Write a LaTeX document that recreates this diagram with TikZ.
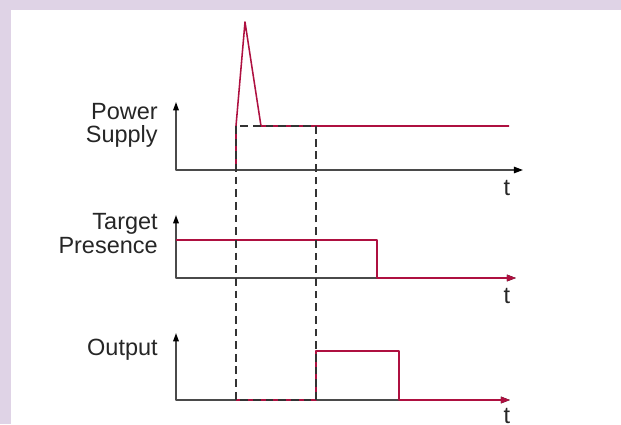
\documentclass[tikz,border=0pt]{standalone}
\usepackage{fontspec}
\setmainfont{Liberation Sans}
\usetikzlibrary{arrows.meta}
\definecolor{TDCrimson}{HTML}{AE1040}
\definecolor{TDAxis}{HTML}{4A4A4A}
\definecolor{TDGuide}{HTML}{333333}
\definecolor{TDLilac}{HTML}{DFD3E6}

\begin{document}
\begin{tikzpicture}[x=0.025cm,y=-0.025cm,line join=round,
    axis/.style={TDAxis,line width=1.1pt,{Triangle[length=6pt,width=4pt,black]}-{Triangle[length=6.5pt,width=4.6pt,black]}},
    signal/.style={TDCrimson,line width=1.1pt},
    guide/.style={TDGuide,line width=0.9pt,dash pattern=on 5.5pt off 3.5pt},
    label/.style={font=\fontsize{16.7}{16.8}\selectfont,text=black!85,inner sep=0pt}]
  \useasboundingbox (0,0) rectangle (621,424);
  \fill[TDLilac] (0,0) rectangle (621,9.5);
  \fill[TDLilac] (0,0) rectangle (10.5,424);
  % axes
  \draw[axis] (176,102) |- (523,170);
  \draw[axis] (176,215) |- (516,278);
  \draw[axis] (176,333) |- (510,400);
  % signals
  \draw[signal] (236,170) -- (236,126) -- (245,22) -- (261,126) -- (509,126);
  \draw[signal,-{Triangle[length=6.5pt,width=4.6pt]}]
    (176,240) -- (377,240) -- (377,278) -- (516,278);
  \draw[signal,-{Triangle[length=6.5pt,width=4.6pt]}]
    (236,400) -- (316,400) -- (316,351) -- (399,351) -- (399,400) -- (510,400);
  % timing guides
  \draw[guide] (236,126) rectangle (316,400);
  % labels
  \node[label,align=right,anchor=east] (power) at (158,125.5) {Power\\Supply};
  \node[label,align=right,anchor=east] (target) at (158,233.5) {Target\\Presence};
  \node[label,anchor=base east] (output) at (158,355) {Output};
  \node[label,anchor=base] (t1) at (507,195) {t};
  \node[label,anchor=base] (t2) at (507,303) {t};
  \node[label,anchor=base] (t3) at (507,423) {t};
\end{tikzpicture}
\end{document}
